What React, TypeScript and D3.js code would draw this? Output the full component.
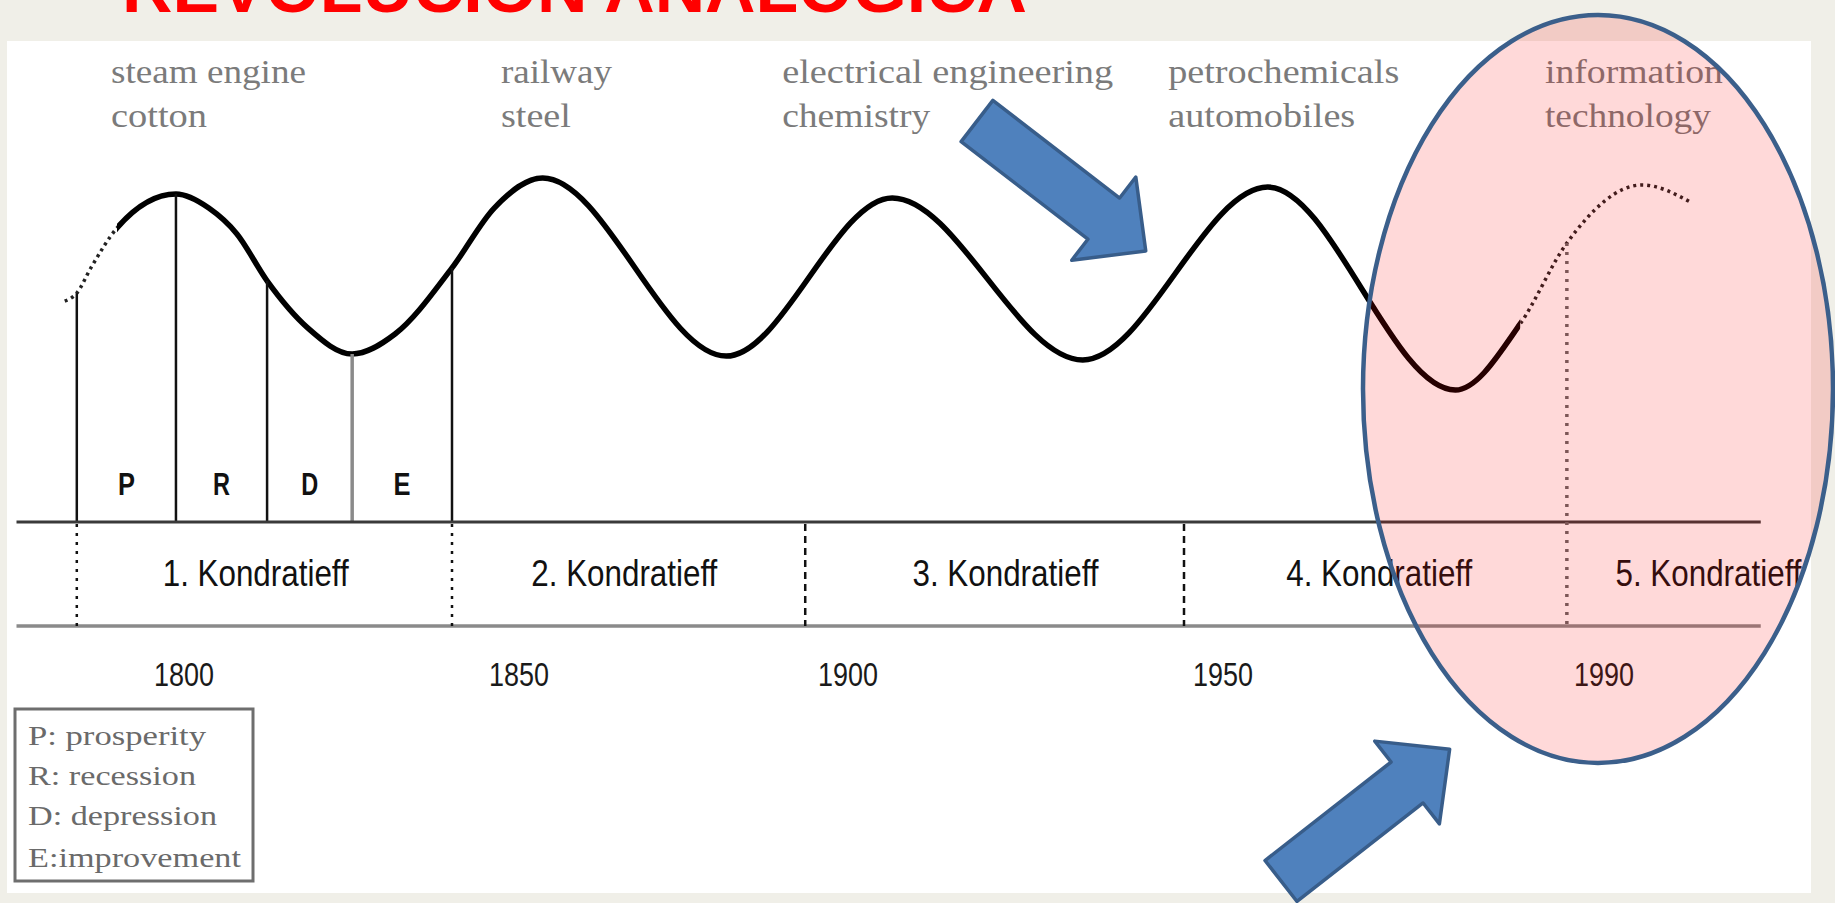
import React from 'react'
import * as d3 from 'd3'

// year ticks under the Kondratieff band
const yearTicks = [1800, 1850, 1900, 1950, 1990]

// long wave (value = height above the axis)
const wave = [
  { year: 1782.2, value: 63.1 },
  { year: 1784.0, value: 65.4 },
  { year: 1786.1, value: 72.6 },
  { year: 1790.0, value: 84.0 },
  { year: 1798.8, value: 93.7 },
  { year: 1803.7, value: 89.7 },
  { year: 1807.9, value: 82.3 },
  { year: 1812.4, value: 68.9 },
  { year: 1818.5, value: 55.4 },
  { year: 1825.1, value: 48.0 },
  { year: 1831.5, value: 53.7 },
  { year: 1840.0, value: 72.6 },
  { year: 1846.3, value: 89.7 },
  { year: 1853.6, value: 98.3 },
  { year: 1881.5, value: 47.4 },
  { year: 1905.9, value: 92.6 },
  { year: 1931.3, value: 46.3 },
  { year: 1954.7, value: 95.7 },
  { year: 1974.4, value: 37.7 },
  { year: 1981.2, value: 56.6 },
  { year: 1986.1, value: 79.7 },
  { year: 1994.0, value: 96.3 },
  { year: 1999.3, value: 91.1 },
]

// part of the wave drawn solid, the rest is dotted
const solidSpan = [1790.0, 1981.2]

const phaseYears = [1784.0, 1798.8, 1812.4, 1825.1, 1840.0]
const phaseLetters = ['P', 'R', 'D', 'E']

const kondratieffBounds = [1784.0, 1840.0, 1893.5, 1944.8, 1986.1]
const kondratieffNames = ['1. Kondratieff', '2. Kondratieff', '3. Kondratieff', '4. Kondratieff', '5. Kondratieff']
const kondratieffLabelYears = [1810.7, 1866.0, 1921.0, 1966.4, 2001.0]

const innovationYears = [1789.1, 1847.3, 1890.0, 1942.7, 1983.8]
const innovations = [
  ['steam engine', 'cotton'],
  ['railway', 'steel'],
  ['electrical engineering', 'chemistry'],
  ['petrochemicals', 'automobiles'],
  ['information', 'technology'],
]

const legendItems = ['P: prosperity', 'R: recession', 'D: depression', 'E:improvement']

const axisSpan = [1775, 2006.5]

const W = 1835
const H = 903

// widths of the stretched labels, in px
const innovationWidths: Record<string, number> = {
  'steam engine': 195, cotton: 96, railway: 111, steel: 70,
  'electrical engineering': 331, chemistry: 148, petrochemicals: 231,
  automobiles: 187, information: 178, technology: 166,
}
const legendWidths = [178, 168, 189, 213]

const arrowPath = (len: number, shaft: number, head: number, headLen: number) => {
  const b = len - headLen
  return `M0,${-shaft / 2}L${b},${-shaft / 2}L${b},${-head / 2}L${len},0L${b},${head / 2}L${b},${shaft / 2}L0,${shaft / 2}Z`
}

const App = () => {
  const x = d3.scaleLinear()
    .domain([1780, 1800, 1850, 1900, 1950, 1990, 2010])
    .range([50, 184, 519, 848, 1223, 1604, 1794])
  const y = d3.scaleLinear().domain([0, 100]).range([522, 172])

  const bandBottom = 626
  const valueAt = (yr: number) => wave.find(d => d.year === yr)!.value

  const line = d3.line<{ year: number, value: number }>()
    .x(d => x(d.year))
    .y(d => y(d.value))
    .curve(d3.curveMonotoneX)
  const wavePath = line(wave) || ''

  const sx0 = x(solidSpan[0])
  const sx1 = x(solidSpan[1])

  return (
    <svg width={W} height={H} style={{ position: 'absolute', left: 0, top: 0, display: 'block' }}>
      <defs>
        <clipPath id="solid-clip">
          <rect x={sx0} y={0} width={sx1 - sx0} height={H} />
        </clipPath>
        <clipPath id="dotted-clip">
          <rect x={0} y={0} width={sx0} height={H} />
          <rect x={sx1} y={0} width={W - sx1} height={H} />
        </clipPath>
      </defs>

      <rect x={0} y={0} width={W} height={H} fill="#f0efe8" />
      {/* title is cut by the top edge in the original slide */}
      <text x={122} y={12} fontFamily="Liberation Sans, Arial, sans-serif" fontWeight="bold"
        fontSize={69} fill="#ff0000" textLength={905} lengthAdjust="spacingAndGlyphs">
        REVOLUCION ANALOGICA
      </text>

      <rect x={7} y={41} width={1804} height={852} fill="#ffffff" />

      {innovations.map((lines, i) => (
        <g key={i}>
          {lines.map((t, j) => (
            <text key={t} x={x(innovationYears[i])} y={83 + j * 44}
              fontFamily="Liberation Serif, Times New Roman, serif" fontSize={33} fill="#7b7b7b"
              textLength={innovationWidths[t]} lengthAdjust="spacingAndGlyphs">{t}</text>
          ))}
        </g>
      ))}

      <path d={wavePath} fill="none" stroke="#000" strokeWidth={5.5} strokeLinejoin="round" clipPath="url(#solid-clip)" />
      <path d={wavePath} fill="none" stroke="#222" strokeWidth={3.5} strokeDasharray="3 4" clipPath="url(#dotted-clip)" />

      {phaseYears.map((yr, i) => (
        <line key={yr} x1={x(yr)} x2={x(yr)} y1={y(valueAt(yr))} y2={y(0)}
          stroke={i === 3 ? '#8a8a8a' : '#111'} strokeWidth={i === 3 ? 3.5 : 2.5} />
      ))}
      {phaseLetters.map((l, i) => (
        <text key={l} x={x((phaseYears[i] + phaseYears[i + 1]) / 2)} y={495} textAnchor="middle"
          fontFamily="Liberation Sans, Arial, sans-serif" fontSize={31} fontWeight="bold" fill="#111"
          textLength={17} lengthAdjust="spacingAndGlyphs">{l}</text>
      ))}

      <line x1={x(axisSpan[0])} x2={x(axisSpan[1])} y1={y(0)} y2={y(0)} stroke="#3a3a3a" strokeWidth={3} />
      <line x1={x(axisSpan[0])} x2={x(axisSpan[1])} y1={bandBottom} y2={bandBottom} stroke="#8a8a8a" strokeWidth={3.5} />

      {kondratieffBounds.map((yr, i) => {
        const last = i === kondratieffBounds.length - 1
        const dashed = i === 2 || i === 3
        return (
          <line key={yr} x1={x(yr)} x2={x(yr)} y1={last ? y(valueAt(yr)) : y(0) + 2} y2={bandBottom}
            stroke={last ? '#666' : '#111'} strokeWidth={last ? 3.5 : 2.5}
            strokeDasharray={dashed ? '7 5' : '3 6'} />
        )
      })}

      {kondratieffNames.map((k, i) => (
        <text key={k} x={x(kondratieffLabelYears[i])} y={586} textAnchor="middle"
          fontFamily="Liberation Sans, Arial, sans-serif" fontSize={37} fill="#111"
          textLength={186} lengthAdjust="spacingAndGlyphs">{k}</text>
      ))}

      {yearTicks.map(t => (
        <text key={t} x={x(t)} y={686} textAnchor="middle"
          fontFamily="Liberation Sans, Arial, sans-serif" fontSize={34} fill="#1a1a1a"
          textLength={60} lengthAdjust="spacingAndGlyphs">{t}</text>
      ))}

      <rect x={15} y={709} width={238} height={172} fill="#fff" stroke="#6e6e6e" strokeWidth={3} />
      {legendItems.map((t, i) => (
        <text key={t} x={28} y={[745, 785, 825, 867][i]}
          fontFamily="Liberation Serif, Times New Roman, serif" fontSize={28} fill="#6a6a6a"
          textLength={legendWidths[i]} lengthAdjust="spacingAndGlyphs">{t}</text>
      ))}

      <ellipse cx={1598} cy={389} rx={235} ry={374} fill="rgba(255,0,0,0.15)" stroke="#3b5f8b" strokeWidth={4.5} />

      <path d={arrowPath(213, 52, 105, 53)} transform="translate(977,121) rotate(37.6)"
        fill="#4f81bd" stroke="#385d8a" strokeWidth={3.5} strokeLinejoin="round" />
      <path d={arrowPath(214, 52, 105, 54)} transform="translate(1281,881) rotate(-38)"
        fill="#4f81bd" stroke="#385d8a" strokeWidth={3.5} strokeLinejoin="round" />
    </svg>
  )
}

export default App
